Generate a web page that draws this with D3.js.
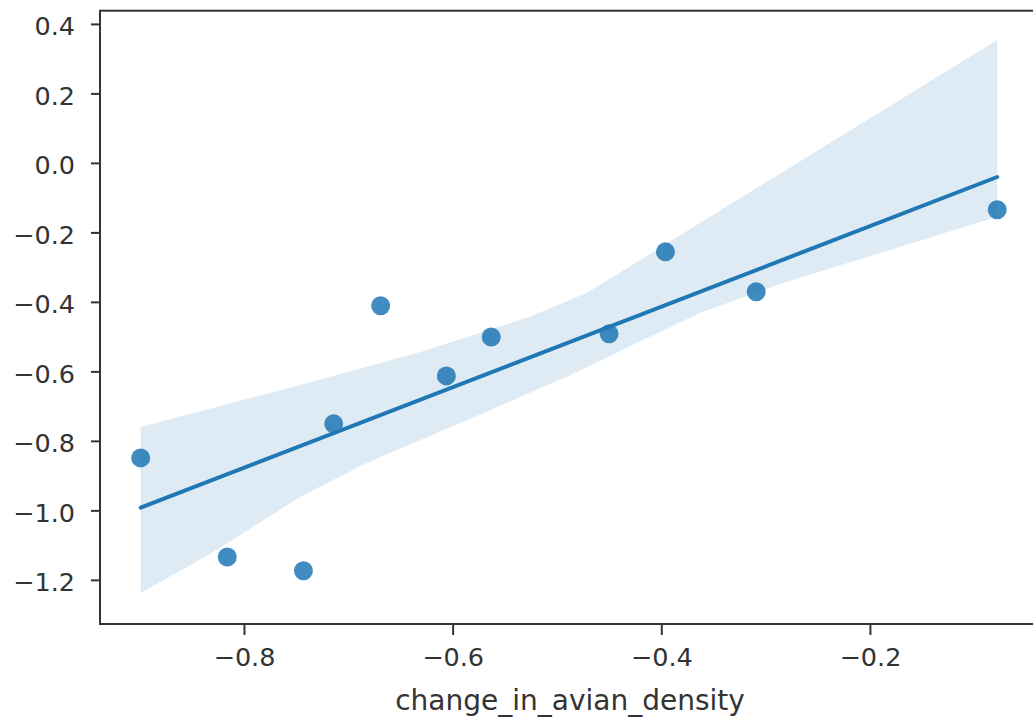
<!DOCTYPE html>
<html>
<head>
<meta charset="utf-8">
<script src="https://cdn.jsdelivr.net/npm/d3@7"></script>
<style>
    html, body { margin: 0; padding: 0; background: #fff; }
    svg { display: block; }
</style>
</head>
<body>
<div id="chart"></div>
<script>
'use strict';

// scatter points
const avianChange = [-0.899, -0.816, -0.743, -0.714, -0.669, -0.606, -0.563, -0.450, -0.396, -0.309, -0.078];
const otherChange = [-0.849, -1.134, -1.174, -0.751, -0.411, -0.613, -0.501, -0.492, -0.256, -0.371, -0.135];

// confidence band edges (bootstrapped, so not straight)
const bandUpperX = [-0.899, -0.746, -0.631, -0.526, -0.471, -0.363, -0.078];
const bandUpperY = [-0.760, -0.639, -0.544, -0.443, -0.374, -0.173, 0.354];
const bandLowerX = [-0.899, -0.842, -0.811, -0.746, -0.682, -0.586, -0.491, -0.421, -0.363, -0.286, -0.078];
const bandLowerY = [-1.237, -1.142, -1.085, -0.961, -0.863, -0.740, -0.616, -0.515, -0.432, -0.348, -0.155];

const xTicks = [-0.8, -0.6, -0.4, -0.2];
const yTicks = [-1.2, -1.0, -0.8, -0.6, -0.4, -0.2, 0.0, 0.2, 0.4];
const xLabel = 'change_in_avian_density';

const WIDTH = 1033;
const HEIGHT = 719;
const C0 = '#1f77b4';
const FONT = '"DejaVu Sans", sans-serif';

const svg = d3.select('#chart').append('svg')
    .attr('width', WIDTH)
    .attr('height', HEIGHT);

// right spine falls just outside the picture
const x = d3.scaleLinear().domain([-0.938, -0.037]).range([100, 1040]);
const y = d3.scaleLinear().domain([-1.327, 0.438]).range([624, 10.7]);

// least squares fit for the regression line
const mx = d3.mean(avianChange);
const my = d3.mean(otherChange);
const slope = d3.sum(avianChange, function(v, i) {
    return (v - mx) * (otherChange[i] - my);
}) / d3.sum(avianChange, function(v) {
    return (v - mx) * (v - mx);
});
const xMin = d3.min(avianChange);
const xMax = d3.max(avianChange);
const fit = [xMin, xMax].map(function(v) {
    return [v, my + slope * (v - mx)];
});

const plot = svg.append('g');

plot.append('g').selectAll('circle')
    .data(avianChange)
    .enter().append('circle')
    .attr('cx', function(d) { return x(d); })
    .attr('cy', function(d, i) { return y(otherChange[i]); })
    .attr('r', 9.5)
    .attr('fill', C0)
    .attr('fill-opacity', 0.85);

const bandPts = bandUpperX.map(function(v, i) {
    return [v, bandUpperY[i]];
}).concat(bandLowerX.map(function(v, i) {
    return [v, bandLowerY[i]];
}).reverse());

plot.append('path')
    .datum(bandPts)
    .attr('d', d3.line()
        .x(function(d) { return x(d[0]); })
        .y(function(d) { return y(d[1]); })
        .curve(d3.curveLinearClosed))
    .attr('fill', C0)
    .attr('fill-opacity', 0.15);

plot.append('path')
    .datum(fit)
    .attr('d', d3.line()
        .x(function(d) { return x(d[0]); })
        .y(function(d) { return y(d[1]); }))
    .attr('fill', 'none')
    .attr('stroke', C0)
    .attr('stroke-width', 4)
    .attr('stroke-linecap', 'round');

// axes
const yAxis = svg.append('g')
    .attr('transform', 'translate(100,0)')
    .call(d3.axisLeft(y)
        .tickValues(yTicks)
        .tickFormat(d3.format('.1f'))
        .tickSize(9)
        .tickPadding(16));

const xAxis = svg.append('g')
    .attr('transform', 'translate(0,624)')
    .call(d3.axisBottom(x)
        .tickValues(xTicks)
        .tickFormat(d3.format('.1f'))
        .tickSize(11)
        .tickPadding(13));

[xAxis, yAxis].forEach(function(ax) {
    ax.select('.domain').remove();
    ax.selectAll('.tick line')
        .attr('stroke', '#333')
        .attr('stroke-width', 2);
    ax.selectAll('.tick text')
        .attr('fill', '#333')
        .style('font-family', FONT)
        .style('font-size', '25.5px');
});
yAxis.selectAll('.tick text').attr('dy', '0.42em');

// spines
svg.append('rect')
    .attr('x', x.range()[0])
    .attr('y', y.range()[1])
    .attr('width', x.range()[1] - x.range()[0])
    .attr('height', y.range()[0] - y.range()[1])
    .attr('fill', 'none')
    .attr('stroke', '#333')
    .attr('stroke-width', 2);

svg.append('text')
    .attr('x', (x.range()[0] + x.range()[1]) / 2)
    .attr('y', 710)
    .attr('text-anchor', 'middle')
    .attr('fill', '#333')
    .style('font-family', FONT)
    .style('font-size', '28px')
    .text(xLabel);
</script>
</body>
</html>
